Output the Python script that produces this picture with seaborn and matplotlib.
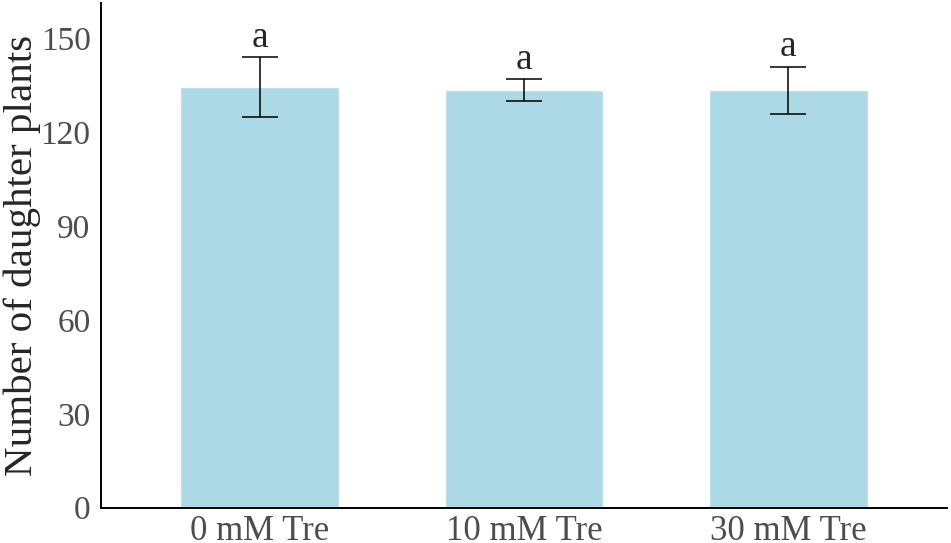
import numpy as np
import pandas as pd
import seaborn as sns
import matplotlib.pyplot as plt

# Número de plantas filhas por tratamento
tratamentos = ["0 mM Tre", "10 mM Tre", "30 mM Tre"]
medias = [134.3, 133.3, 133.3]
desvios = [9.6, 3.5, 7.5]
letras = ["a", "a", "a"]

df = pd.DataFrame({"trat": tratamentos, "media": medias})

sns.set_style("white")
plt.rcParams["font.family"] = ["Liberation Serif", "DejaVu Serif"]

fig = plt.figure(figsize=(9.51, 5.43), dpi=100)
ax = fig.add_axes([101 / 951, 35.3 / 543, 846 / 951, 505 / 543])

sns.barplot(data=df, x="trat", y="media", color="#ADD8E6", saturation=1,
            width=0.6, ax=ax)

ax.errorbar(np.arange(len(medias)), medias, yerr=desvios, fmt="none",
            ecolor="black", elinewidth=1.1, capsize=13, capthick=1.1)

for i, (m, s, l) in enumerate(zip(medias, desvios, letras)):
    ax.text(i, m + s + 3.4, l, ha="center", va="baseline", fontsize=27)

ax.set_xlim(-0.6, 2.6)
ax.set_ylim(0, 161.3)
ax.set_yticks([0, 30, 60, 90, 120, 150])
ax.set_xlabel("")
ax.set_ylabel("Number of daughter plants", fontsize=29.5)
ax.yaxis.set_label_coords(-0.071, 0.5)

for lado in ["top", "right"]:
    ax.spines[lado].set_visible(False)
for lado in ["left", "bottom"]:
    ax.spines[lado].set_linewidth(1.4)
    ax.spines[lado].set_color("black")

ax.tick_params(axis="both", direction="out", length=5, width=1.1,
               color="black", labelsize=25, labelcolor="#4D4D4D")
ax.tick_params(axis="y", labelsize=24, pad=2.5)
ax.tick_params(axis="x", pad=0.5)

plt.savefig("out.png", dpi=100)
